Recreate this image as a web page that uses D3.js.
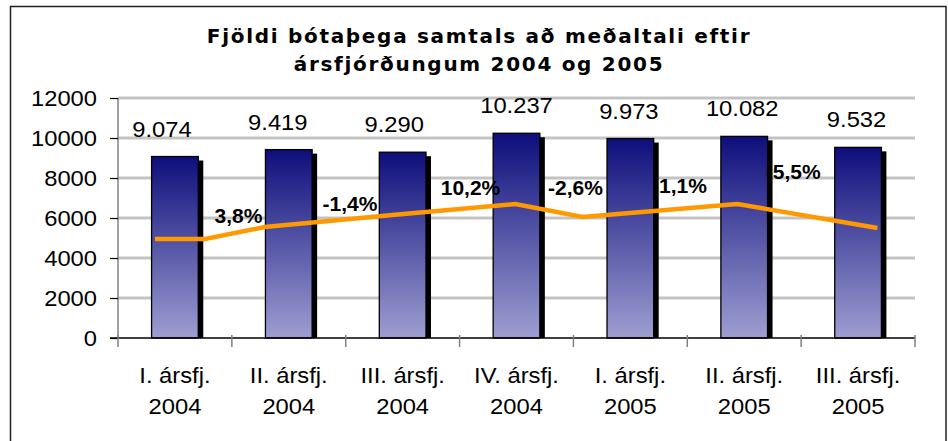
<!DOCTYPE html>
<html>
<head>
<meta charset="utf-8">
<script src="https://cdn.jsdelivr.net/npm/d3@7"></script>
<style>
  body { margin: 0; background: #fff; }
  svg { display: block; }
  text { font-family: "Liberation Sans", Arial, sans-serif; }
</style>
</head>
<body>
<svg id="chart" width="948" height="441"></svg>
<script>
// data
const quarters = ["I. ársfj.", "II. ársfj.", "III. ársfj.", "IV. ársfj.", "I. ársfj.", "II. ársfj.", "III. ársfj."];
const years = ["2004", "2004", "2004", "2004", "2005", "2005", "2005"];
const values = [9074, 9419, 9290, 10237, 9973, 10082, 9532];
const changeLabels = ["3,8%", "-1,4%", "10,2%", "-2,6%", "1,1%", "-5,5%"];
const yTicks = [0, 2000, 4000, 6000, 8000, 10000, 12000];
// orange line: position along the category axis (in quarters) and level
const lineX = [0.325, 0.764, 1.29, 2.41, 3.49, 4.08, 5.44, 6.67];
const lineY = [4950, 4950, 5550, 6150, 6700, 6050, 6700, 5500];

// label placement tweaks (layout only)
const valueNudge = [-13, -11, -8.5, 0, -1.5, -2, -1.5];
const changeAt = [1.058, 2.038, 3.096, 4.018, 4.962, 5.93];
const changeLevel = [5750, 6350, 7150, 7150, 7250, 7950];

const svg = d3.select("#chart");
const plotLeft = 118, plotRight = 915, plotTop = 98, plotBottom = 338;

const x = d3.scaleBand().domain(d3.range(values.length)).range([plotLeft, plotRight])
    .paddingInner(0.59).paddingOuter(0.295);
const xq = d3.scaleLinear().domain([0, values.length]).range([plotLeft, plotRight]);
const y = d3.scaleLinear().domain([0, 12000]).range([plotBottom, plotTop]);
const fmt = d3.formatLocale({ decimal: ",", thousands: ".", grouping: [3], currency: ["", ""] }).format(",");

const defs = svg.append("defs");
const grad = defs.append("linearGradient").attr("id", "barGrad")
    .attr("x1", 0).attr("y1", 0).attr("x2", 0).attr("y2", 1);
grad.append("stop").attr("offset", "0%").attr("stop-color", "#0e0e7c");
grad.append("stop").attr("offset", "100%").attr("stop-color", "#9e9ed2");

// outer frame
svg.append("rect").attr("x", 10.5).attr("y", 6.5).attr("width", 935.5).attr("height", 460)
    .attr("fill", "none").attr("stroke", "#222").attr("stroke-width", 1.5);

// title
const title = svg.append("text").attr("text-anchor", "middle")
    .style("font-family", "'DejaVu Sans', Verdana, sans-serif")
    .style("font-weight", "bold").style("font-size", "20px").style("letter-spacing", "1.7px");
title.append("tspan").attr("x", 479).attr("y", 43).text("Fjöldi bótaþega samtals að meðaltali eftir");
title.append("tspan").attr("x", 479).attr("y", 71).text("ársfjórðungum 2004 og 2005");

// gridlines
svg.append("g").selectAll("line").data(yTicks.filter(d => d > 0)).join("line")
    .attr("x1", plotLeft).attr("x2", plotRight)
    .attr("y1", d => y(d)).attr("y2", d => y(d))
    .attr("stroke", "#c3c3c3").attr("stroke-width", 3);

// bar shadows
svg.append("g").selectAll("rect").data(values).join("rect")
    .attr("x", (d, i) => x(i) + 5)
    .attr("y", d => y(d) + 4)
    .attr("width", x.bandwidth())
    .attr("height", d => plotBottom - y(d) - 4)
    .attr("fill", "#000");

// bars
svg.append("g").selectAll("rect").data(values).join("rect")
    .attr("x", (d, i) => x(i))
    .attr("y", d => y(d))
    .attr("width", x.bandwidth())
    .attr("height", d => plotBottom - y(d))
    .attr("fill", "url(#barGrad)")
    .attr("stroke", "#000").attr("stroke-width", 1.3);

// value labels
svg.append("g").selectAll("text").data(values).join("text")
    .attr("text-anchor", "middle")
    .attr("transform", (d, i) => `translate(${x(i) + x.bandwidth() / 2 + valueNudge[i]},${y(d) - 20}) scale(1.08,1)`)
    .style("font-size", "22px").attr("fill", "#000")
    .text(d => fmt(d));

// orange line
const linePts = lineX.map((d, i) => [xq(d), y(lineY[i])]);
svg.append("path").attr("d", d3.line()(linePts))
    .attr("fill", "none").attr("stroke", "#ff9900").attr("stroke-width", 4.5);

// change labels
svg.append("g").selectAll("text").data(changeLabels).join("text")
    .attr("x", (d, i) => xq(changeAt[i]))
    .attr("y", (d, i) => y(changeLevel[i]))
    .attr("text-anchor", "middle")
    .style("font-size", "21px").style("font-weight", "bold")
    .text(d => d);

// y axis
const yAxis = svg.append("g").attr("transform", `translate(${plotLeft},0)`)
    .call(d3.axisLeft(y).tickValues(yTicks).tickSize(8).tickPadding(13).tickFormat(d3.format("d")));
yAxis.select(".domain").attr("stroke", "#808080").attr("stroke-width", 1.5).attr("d", `M0,${plotTop}V${plotBottom}`);
yAxis.selectAll(".tick line").attr("stroke", "#000").attr("stroke-width", 1.2);
yAxis.selectAll(".tick text").style("font-size", "22px").attr("fill", "#000")
    .attr("dy", "0.36em")
    .each(function () {
        const t = d3.select(this);
        const xx = +t.attr("x");
        t.attr("x", null).attr("transform", `translate(${xx},0) scale(1.08,1)`);
    });

// x axis
svg.append("line").attr("x1", 110).attr("x2", plotRight).attr("y1", plotBottom).attr("y2", plotBottom)
    .attr("stroke", "#000").attr("stroke-width", 1.5);
svg.append("g").selectAll("line").data(d3.range(values.length + 1)).join("line")
    .attr("x1", d => xq(d)).attr("x2", d => xq(d))
    .attr("y1", plotBottom - 3).attr("y2", plotBottom + 9)
    .attr("stroke", "#808080").attr("stroke-width", 1.5);

const xl = svg.append("g").selectAll("g").data(quarters).join("g")
    .attr("transform", (d, i) => `translate(${x(i) + x.bandwidth() / 2},0)`);
xl.append("text").attr("text-anchor", "middle")
    .attr("transform", "translate(0,383) scale(1.08,1)")
    .style("font-size", "22px").text(d => d);
xl.append("text").attr("text-anchor", "middle")
    .attr("transform", "translate(0,414) scale(1.08,1)")
    .style("font-size", "22px").text((d, i) => years[i]);
</script>
</body>
</html>
